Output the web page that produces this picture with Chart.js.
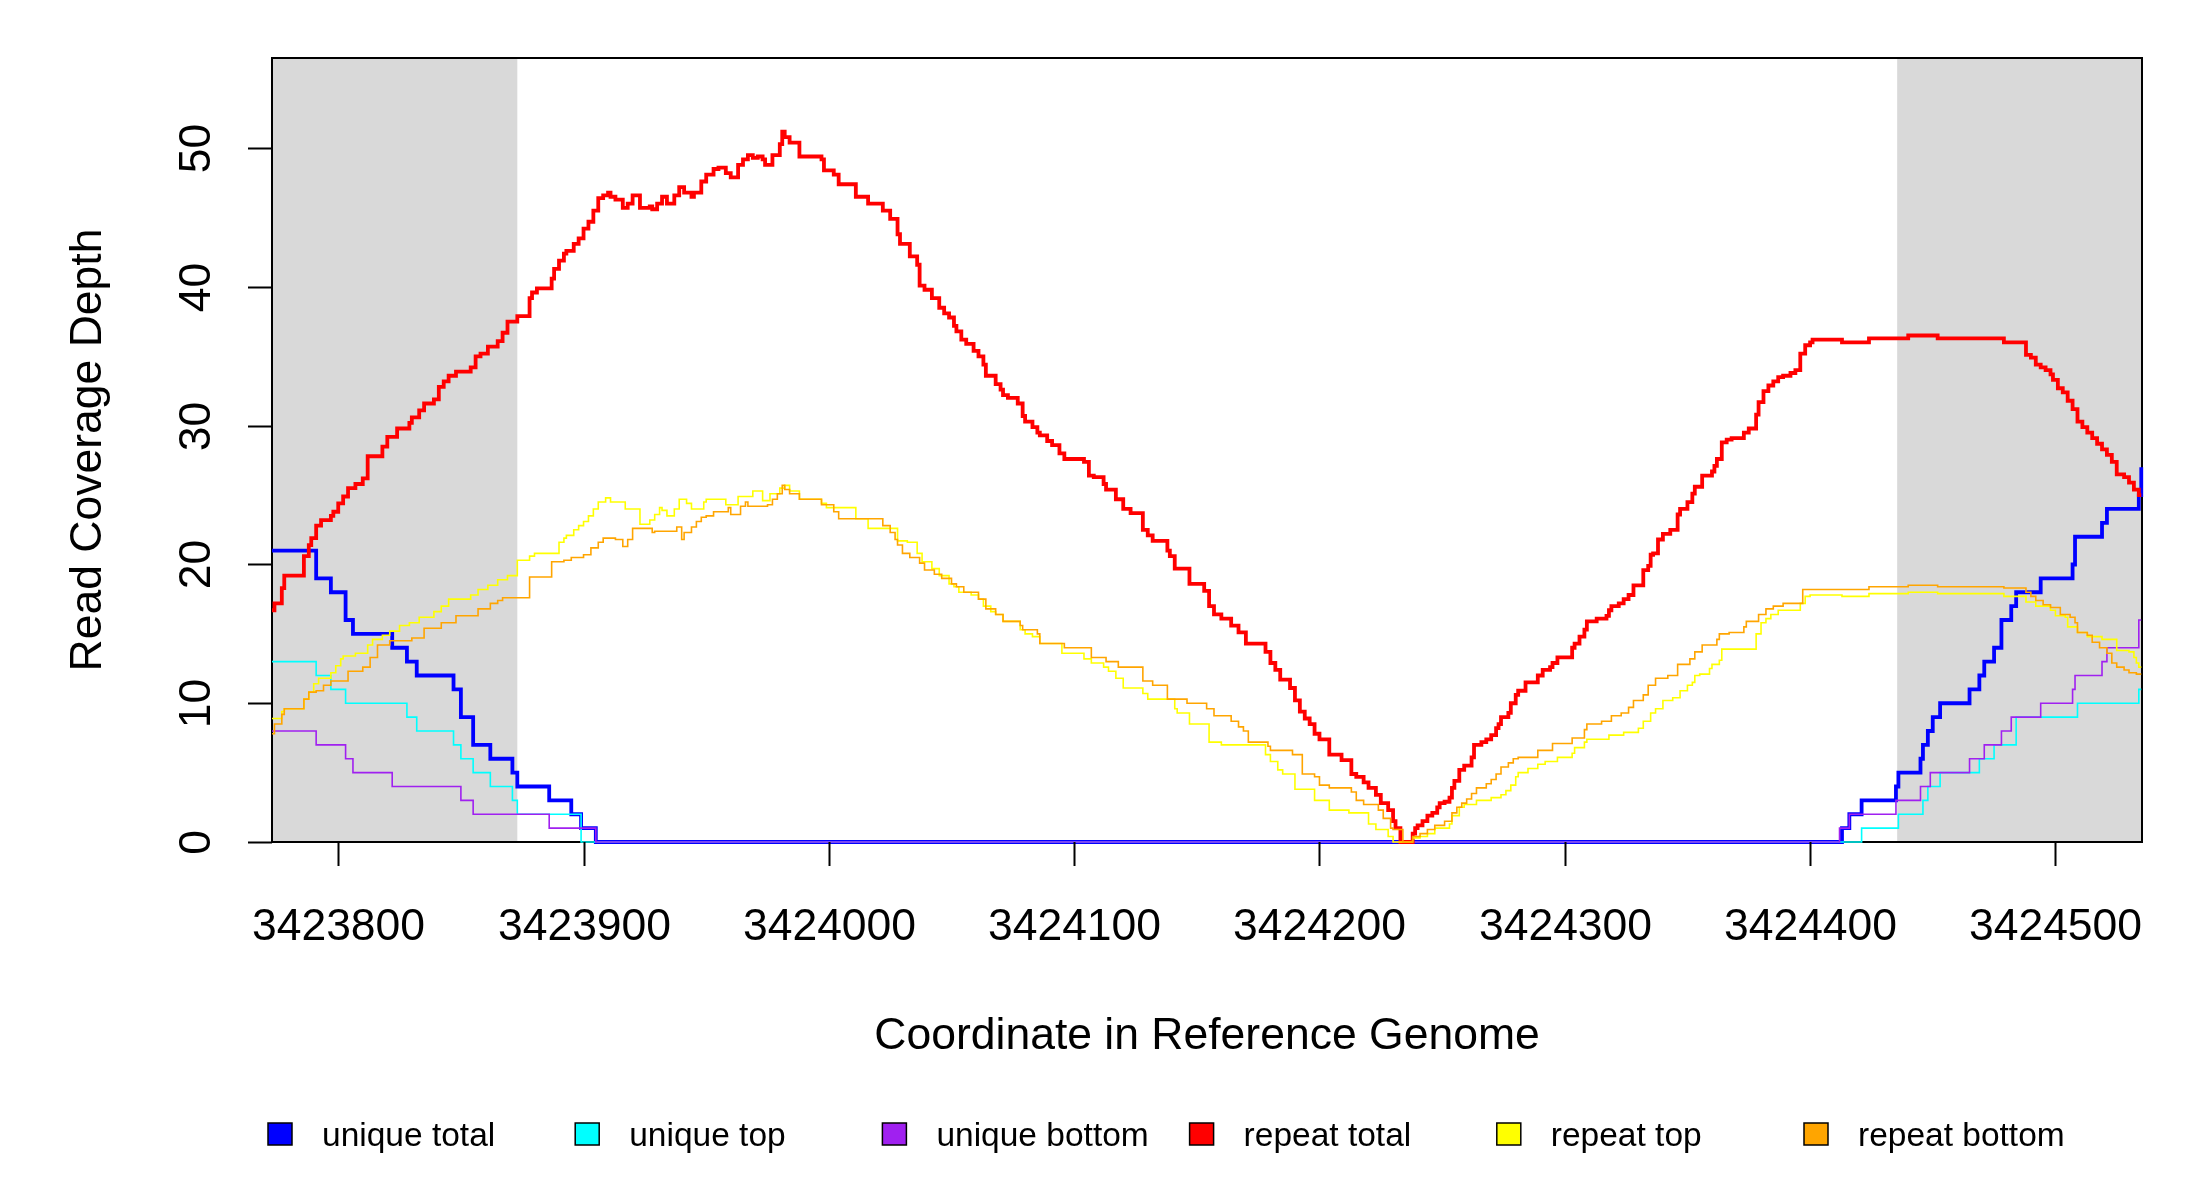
<!DOCTYPE html>
<html>
<head>
<meta charset="utf-8">
<script src="https://cdn.jsdelivr.net/npm/chart.js@4.4.1/dist/chart.umd.min.js"></script>
<style>html,body{margin:0;padding:0;background:#fff}canvas{display:block}</style>
</head>
<body>
<canvas id="c" width="2200" height="1200"></canvas>
<script>
// ---------- data ----------
const xTicks = [3423800, 3423900, 3424000, 3424100, 3424200, 3424300, 3424400, 3424500];
const yTicks = [0, 10, 20, 30, 40, 50];
const xRange = [3423773, 3424535.3];
const yRange = [0, 56.5];
const shadedRegions = [[3423773, 3423873], [3424435.5, 3424535.3]];
const xTitle = "Coordinate in Reference Genome";
const yTitle = "Read Coverage Depth";
const seriesLabels = ["unique total", "unique top", "unique bottom", "repeat total", "repeat top", "repeat bottom"];
const seriesColors = ["#0000FF", "#00FFFF", "#A020F0", "#FF0000", "#FFFF00", "#FFA500"];

const uniqueTotal = [[3423773,21],[3423791,19],[3423797,18],[3423803,16],[3423806,15],[3423822,14],[3423828,13],[3423832,12],[3423847,11],[3423850,9],[3423855,7],[3423862,6],[3423871,5],[3423873,4],[3423886,3],[3423895,2],[3423899,1],[3423905,0],[3424413,1],[3424416,2],[3424421,3],[3424435,4],[3424436,5],[3424445,6],[3424446,7],[3424448,8],[3424450,9],[3424453,10],[3424465,11],[3424469,12],[3424471,13],[3424475,14],[3424478,16],[3424482,17],[3424484,18],[3424494,19],[3424507,20],[3424508,22],[3424519,23],[3424521,24],[3424534,25],[3424535,27]];

const uniqueTop = [[3423773,13],[3423791,12],[3423797,11],[3423803,10],[3423828,9],[3423832,8],[3423847,7],[3423850,6],[3423855,5],[3423862,4],[3423871,3],[3423873,2],[3423899,0],[3424421,1],[3424436,2],[3424446,3],[3424448,4],[3424453,5],[3424469,6],[3424475,7],[3424484,9],[3424509,10],[3424534,11],[3424535,11]];

const uniqueBottom = [[3423773,8],[3423791,7],[3423803,6],[3423806,5],[3423822,4],[3423850,3],[3423855,2],[3423886,1],[3423905,0],[3424412,1],[3424416,2],[3424435,3],[3424445,4],[3424449,5],[3424465,6],[3424471,7],[3424478,8],[3424482,9],[3424494,10],[3424507,11],[3424508,12],[3424519,13],[3424521,14],[3424534,16],[3424535,16]];

const repeatTotal = [[3423773,16.7],[3423774,17.2],[3423777,18.3],[3423778,19.2],[3423786,20.6],[3423788,21.4],[3423789,21.9],[3423791,22.8],[3423793,23.2],[3423797,23.5],[3423798,23.8],[3423800,24.4],[3423802,24.9],[3423804,25.5],[3423807,25.8],[3423810,26.2],[3423812,27.8],[3423818,28.5],[3423820,29.2],[3423824,29.8],[3423829,30.2],[3423830,30.6],[3423833,31.1],[3423835,31.6],[3423839,31.9],[3423841,32.8],[3423843,33.2],[3423845,33.6],[3423848,33.9],[3423854,34.2],[3423856,35],[3423858,35.2],[3423861,35.7],[3423865,36.1],[3423867,36.7],[3423869,37.5],[3423873,37.9],[3423878,39.2],[3423879,39.6],[3423881,39.9],[3423887,40.6],[3423888,41.3],[3423890,41.9],[3423892,42.4],[3423893,42.6],[3423896,43.1],[3423898,43.5],[3423900,44.2],[3423902,44.7],[3423904,45.5],[3423906,46.4],[3423908,46.6],[3423910,46.8],[3423911,46.5],[3423913,46.3],[3423916,45.7],[3423918,46],[3423920,46.6],[3423923,45.7],[3423927,45.8],[3423928,45.6],[3423930,46],[3423932,46.5],[3423934,46],[3423937,46.6],[3423939,47.2],[3423941,46.8],[3423944,46.5],[3423945,46.8],[3423948,47.6],[3423950,48.1],[3423953,48.5],[3423955,48.6],[3423958,48.2],[3423960,47.9],[3423963,48.8],[3423965,49.2],[3423967,49.5],[3423969,49.3],[3423971,49.4],[3423973,49.2],[3423974,48.8],[3423977,49.5],[3423980,50.3],[3423981,51.2],[3423982,50.8],[3423984,50.4],[3423988,49.4],[3423997,49.2],[3423998,48.4],[3424002,48.1],[3424004,47.4],[3424011,46.5],[3424016,46],[3424022,45.5],[3424025,44.9],[3424028,43.8],[3424029,43.1],[3424033,42.2],[3424036,41.6],[3424037,40.1],[3424039,39.8],[3424042,39.2],[3424045,38.5],[3424047,38.1],[3424049,37.8],[3424051,37.2],[3424052,36.8],[3424054,36.2],[3424056,35.9],[3424059,35.4],[3424061,35],[3424063,34.4],[3424064,33.6],[3424068,33],[3424070,32.6],[3424071,32.2],[3424073,32],[3424077,31.6],[3424079,30.7],[3424080,30.3],[3424083,29.9],[3424085,29.5],[3424086,29.3],[3424089,28.9],[3424091,28.6],[3424094,28],[3424096,27.6],[3424104,27.4],[3424106,26.4],[3424108,26.3],[3424112,25.8],[3424113,25.4],[3424117,24.7],[3424120,24],[3424123,23.7],[3424128,22.5],[3424130,22.1],[3424132,21.7],[3424138,21],[3424139,20.6],[3424141,19.7],[3424147,18.6],[3424153,18.1],[3424155,17],[3424157,16.4],[3424160,16.1],[3424164,15.6],[3424167,15.1],[3424170,14.3],[3424178,13.7],[3424180,12.9],[3424182,12.4],[3424184,11.7],[3424188,11.1],[3424190,10.2],[3424192,9.4],[3424194,8.9],[3424196,8.5],[3424198,7.8],[3424200,7.4],[3424204,6.3],[3424209,5.9],[3424213,4.9],[3424215,4.7],[3424218,4.3],[3424220,3.9],[3424223,3.4],[3424225,2.8],[3424228,2.3],[3424230,1.5],[3424231,1],[3424233,0],[3424238,0.6],[3424239,1],[3424240,1.2],[3424242,1.5],[3424244,1.9],[3424246,2.1],[3424248,2.5],[3424249,2.8],[3424251,2.9],[3424253,3.2],[3424254,3.9],[3424255,4.4],[3424257,5.2],[3424259,5.5],[3424262,6.1],[3424263,7],[3424266,7.2],[3424268,7.4],[3424270,7.7],[3424272,8.2],[3424273,8.5],[3424274,9],[3424277,9.3],[3424278,10],[3424280,10.6],[3424281,10.9],[3424284,11.5],[3424289,12],[3424291,12.4],[3424294,12.6],[3424295,12.9],[3424297,13.3],[3424303,14],[3424304,14.3],[3424306,14.8],[3424308,15.3],[3424309,15.9],[3424313,16.1],[3424317,16.3],[3424318,16.7],[3424319,17],[3424322,17.2],[3424324,17.5],[3424326,17.8],[3424328,18.5],[3424332,19.6],[3424334,19.9],[3424335,20.7],[3424336,20.8],[3424338,21.8],[3424340,22.2],[3424343,22.5],[3424346,23.6],[3424347,24],[3424350,24.5],[3424352,25.1],[3424353,25.6],[3424356,26.4],[3424360,26.7],[3424361,27.1],[3424362,27.6],[3424364,28.8],[3424366,29],[3424368,29.1],[3424373,29.5],[3424375,29.8],[3424378,30.8],[3424379,31.7],[3424381,32.5],[3424383,32.9],[3424385,33.2],[3424387,33.5],[3424389,33.6],[3424392,33.8],[3424394,34],[3424396,35.2],[3424398,35.8],[3424400,36],[3424401,36.2],[3424413,36],[3424424,36.3],[3424440,36.5],[3424452,36.3],[3424479,36],[3424488,35.1],[3424490,34.9],[3424492,34.4],[3424494,34.2],[3424496,34],[3424498,33.7],[3424499,33.3],[3424501,32.7],[3424503,32.4],[3424505,31.8],[3424507,31.2],[3424509,30.3],[3424511,29.9],[3424513,29.5],[3424515,29.1],[3424517,28.7],[3424519,28.3],[3424521,27.9],[3424523,27.4],[3424525,26.5],[3424528,26.3],[3424530,25.9],[3424532,25.4],[3424534,25],[3424535,25]];

const repeatTop = [[3423773,8.9],[3423777,9.4],[3423778,9.6],[3423786,10.3],[3423788,10.8],[3423790,11.4],[3423792,11.8],[3423797,12.2],[3423799,12.7],[3423801,13.2],[3423802,13.4],[3423807,13.6],[3423812,14.2],[3423814,14.6],[3423818,14.9],[3423821,15.2],[3423825,15.6],[3423829,15.8],[3423833,16.2],[3423839,16.6],[3423842,17],[3423845,17.5],[3423854,17.8],[3423857,18.2],[3423861,18.5],[3423865,18.9],[3423869,19.2],[3423873,20.3],[3423878,20.6],[3423880,20.8],[3423890,21.6],[3423892,21.9],[3423893,22.1],[3423896,22.5],[3423898,22.8],[3423900,23.1],[3423902,23.5],[3423904,24],[3423906,24.5],[3423909,24.8],[3423911,24.5],[3423917,24],[3423923,22.9],[3423927,23.2],[3423929,23.6],[3423931,24.1],[3423932,23.9],[3423934,23.5],[3423937,24],[3423939,24.7],[3423942,24.4],[3423944,24],[3423949,24.5],[3423950,24.7],[3423958,24.3],[3423963,24.9],[3423969,25.3],[3423973,24.6],[3423976,25.1],[3423980,25.5],[3423982,25.7],[3423984,25.3],[3423988,24.7],[3423997,24.4],[3423999,24.1],[3424011,23.3],[3424016,22.6],[3424028,21.7],[3424032,21.6],[3424036,20.8],[3424038,20.2],[3424042,19.7],[3424045,19.2],[3424049,18.6],[3424051,18.4],[3424053,18],[3424058,17.8],[3424061,17.5],[3424063,17],[3424066,16.6],[3424068,16.4],[3424071,15.9],[3424078,15.3],[3424080,15],[3424083,14.8],[3424086,14.3],[3424095,13.6],[3424104,13.2],[3424107,12.9],[3424112,12.6],[3424114,12.3],[3424117,11.8],[3424120,11.1],[3424128,10.7],[3424130,10.3],[3424141,9.6],[3424142,9.3],[3424147,8.5],[3424155,7.2],[3424160,7],[3424178,6.3],[3424180,5.8],[3424183,5.2],[3424185,4.9],[3424190,3.8],[3424198,3],[3424204,2.3],[3424212,2.1],[3424220,1.3],[3424223,0.9],[3424228,0.4],[3424230,0],[3424238,0.3],[3424241,0.4],[3424244,0.6],[3424247,1],[3424253,1.3],[3424254,1.9],[3424257,2.5],[3424259,2.7],[3424264,3],[3424270,3.2],[3424274,3.4],[3424276,3.7],[3424278,4.1],[3424280,4.7],[3424281,5],[3424285,5.3],[3424289,5.6],[3424292,5.8],[3424297,6.1],[3424303,6.4],[3424304,6.8],[3424308,7.2],[3424309,7.4],[3424318,7.7],[3424324,7.9],[3424330,8.2],[3424332,8.7],[3424335,9.3],[3424337,9.6],[3424340,10.2],[3424344,10.4],[3424347,10.9],[3424350,11.3],[3424352,11.5],[3424353,12],[3424355,12.1],[3424359,12.5],[3424360,12.8],[3424363,13.1],[3424364,13.9],[3424378,15],[3424380,15.8],[3424382,16.1],[3424384,16.4],[3424387,16.7],[3424396,17.2],[3424398,17.7],[3424400,17.8],[3424413,17.7],[3424424,17.9],[3424440,18],[3424452,17.9],[3424479,17.7],[3424488,17.3],[3424492,17],[3424498,16.7],[3424500,16.3],[3424504,16.2],[3424505,15.5],[3424509,15.1],[3424513,14.8],[3424519,14.6],[3424525,13.8],[3424530,13.7],[3424532,13.3],[3424533,12.9],[3424534,12.6],[3424535,12.6]];

const repeatBottom = [[3423773,7.8],[3423774,8.5],[3423777,9.2],[3423778,9.6],[3423786,10.3],[3423788,10.8],[3423791,10.9],[3423794,11.3],[3423797,11.6],[3423804,12.3],[3423810,12.6],[3423813,13.3],[3423816,14.2],[3423821,14.5],[3423830,14.7],[3423835,15.4],[3423842,15.8],[3423848,16.3],[3423857,16.8],[3423862,17.2],[3423865,17.4],[3423867,17.6],[3423878,19.1],[3423887,20.2],[3423892,20.3],[3423895,20.5],[3423900,20.7],[3423903,21.2],[3423906,21.6],[3423908,21.9],[3423913,21.8],[3423916,21.3],[3423918,21.8],[3423920,22.6],[3423928,22.3],[3423929,22.4],[3423938,22.7],[3423940,21.8],[3423941,22.3],[3423944,22.7],[3423946,23.1],[3423948,23.4],[3423950,23.5],[3423953,23.8],[3423959,24.1],[3423960,23.6],[3423964,24.2],[3423966,24.5],[3423967,24.2],[3423975,24.3],[3423977,24.7],[3423979,25.1],[3423981,25.7],[3423982,25.4],[3423984,25.1],[3423988,24.7],[3423997,24.3],[3424002,23.8],[3424004,23.3],[3424022,22.8],[3424025,22.3],[3424027,21.8],[3424028,21.4],[3424030,20.8],[3424033,20.5],[3424037,20.1],[3424039,19.6],[3424043,19.3],[3424046,19],[3424050,18.6],[3424052,18.4],[3424055,18],[3424061,17.5],[3424064,16.8],[3424068,16.4],[3424071,15.9],[3424078,15.6],[3424079,15.3],[3424085,15],[3424086,14.3],[3424096,14],[3424107,13.3],[3424113,13],[3424118,12.6],[3424128,11.6],[3424132,11.3],[3424138,10.3],[3424146,10],[3424154,9.6],[3424157,9.1],[3424164,8.7],[3424167,8.3],[3424169,8],[3424171,7.2],[3424179,6.9],[3424180,6.6],[3424189,6.3],[3424193,4.9],[3424198,4.7],[3424200,4.1],[3424204,3.9],[3424213,3.6],[3424215,3],[3424218,2.7],[3424224,2.3],[3424226,1.7],[3424229,1],[3424230,0.9],[3424234,0],[3424238,0.4],[3424241,0.6],[3424244,0.9],[3424247,1.2],[3424251,1.5],[3424254,2.1],[3424256,2.5],[3424258,2.8],[3424260,3.1],[3424262,3.5],[3424264,3.9],[3424268,4.2],[3424270,4.5],[3424272,4.9],[3424274,5.4],[3424277,5.7],[3424279,6],[3424281,6.1],[3424289,6.6],[3424295,7.1],[3424303,7.5],[3424308,8.1],[3424309,8.5],[3424315,8.7],[3424319,9.1],[3424323,9.3],[3424326,9.7],[3424328,10.2],[3424332,10.6],[3424334,11.3],[3424337,11.8],[3424342,12],[3424346,12.8],[3424351,13.2],[3424353,13.7],[3424356,14.2],[3424362,14.6],[3424363,15],[3424367,15.1],[3424373,15.5],[3424374,15.9],[3424379,16.4],[3424382,16.8],[3424385,17],[3424389,17.2],[3424397,18.2],[3424424,18.4],[3424440,18.5],[3424452,18.4],[3424479,18.3],[3424488,18],[3424490,17.7],[3424492,17.4],[3424495,17.1],[3424498,16.9],[3424502,16.4],[3424506,16.2],[3424508,15.8],[3424509,15.1],[3424513,14.9],[3424515,14.4],[3424518,14],[3424521,13.6],[3424523,12.9],[3424525,12.6],[3424528,12.4],[3424530,12.2],[3424533,12.1],[3424535,12.1]];

const seriesData = [uniqueTotal, uniqueTop, uniqueBottom, repeatTotal, repeatTop, repeatBottom];
const seriesThick = [true, false, false, true, false, false];

// ---------- style / layout ----------
const FONT = '"Liberation Sans", Arial, Helvetica, sans-serif';
const PLOT = { left: 272, right: 2142, top: 58, bottom: 842 };

const datasets = seriesLabels.map((label, i) => ({
  label,
  data: seriesData[i].map(([x, y]) => ({ x, y })),
  borderColor: seriesColors[i],
  backgroundColor: seriesColors[i],
  borderWidth: seriesThick[i] ? 3.8 : 1.6,
  stepped: 'before',
  pointRadius: 0,
  pointHoverRadius: 0,
  fill: false,
  tension: 0,
  clip: 6,
  order: seriesLabels.length - i
}));

const decor = {
  id: 'decor',
  beforeDraw(chart) {
    const ctx = chart.ctx;
    ctx.save();
    ctx.fillStyle = '#ffffff';
    ctx.fillRect(0, 0, chart.width, chart.height);
    ctx.restore();
  },
  beforeDatasetsDraw(chart) {
    const { ctx, chartArea: a, scales: { x } } = chart;
    ctx.save();
    ctx.fillStyle = '#D9D9D9';
    shadedRegions.forEach(([s, e]) => {
      const x0 = Math.max(a.left, x.getPixelForValue(s));
      const x1 = Math.min(a.right, x.getPixelForValue(e));
      ctx.fillRect(x0, a.top, x1 - x0, a.bottom - a.top);
    });
    ctx.strokeStyle = '#000';
    ctx.lineWidth = 2;
    ctx.strokeRect(a.left, a.top, a.right - a.left, a.bottom - a.top);
    ctx.restore();
  },
  afterDraw(chart) {
    const { ctx, chartArea: a, scales: { x, y } } = chart;
    ctx.save();
    ctx.strokeStyle = '#000';
    ctx.fillStyle = '#000';
    ctx.lineWidth = 2;
    // x ticks
    ctx.font = '44.5px ' + FONT;
    ctx.textAlign = 'center';
    ctx.textBaseline = 'alphabetic';
    xTicks.forEach(v => {
      const px = Math.round(x.getPixelForValue(v)) + 0.5;
      ctx.beginPath(); ctx.moveTo(px, a.bottom); ctx.lineTo(px, a.bottom + 24); ctx.stroke();
      ctx.fillText(String(v), px, 940);
    });
    // y ticks
    yTicks.forEach(v => {
      const py = Math.round(y.getPixelForValue(v)) + 0.5;
      ctx.beginPath(); ctx.moveTo(a.left, py); ctx.lineTo(a.left - 24, py); ctx.stroke();
      ctx.save();
      ctx.translate(210, py);
      ctx.rotate(-Math.PI / 2);
      ctx.fillText(String(v), 0, 0);
      ctx.restore();
    });
    // titles
    ctx.fillText(xTitle, (a.left + a.right) / 2, 1049);
    ctx.save();
    ctx.translate(101, (a.top + a.bottom) / 2);
    ctx.rotate(-Math.PI / 2);
    ctx.fillText(yTitle, 0, 0);
    ctx.restore();
    // legend
    ctx.font = '33.5px ' + FONT;
    ctx.textAlign = 'left';
    const lx0 = 268, lstep = 307.2, lBase = 1146;
    seriesLabels.forEach((lab, i) => {
      const lx = lx0 + i * lstep;
      ctx.fillStyle = seriesColors[i];
      ctx.fillRect(lx, 1123, 24, 22);
      ctx.lineWidth = 1.5;
      ctx.strokeStyle = '#000';
      ctx.strokeRect(lx, 1123, 24, 22);
      ctx.fillStyle = '#000';
      ctx.fillText(lab, lx + 54, lBase);
    });
    ctx.restore();
  }
};

new Chart(document.getElementById('c'), {
  type: 'line',
  data: { datasets },
  options: {
    responsive: false,
    maintainAspectRatio: false,
    devicePixelRatio: 1,
    animation: false,
    events: [],
    layout: { padding: { left: PLOT.left, right: 2200 - PLOT.right, top: PLOT.top, bottom: 1200 - PLOT.bottom } },
    plugins: { legend: { display: false }, tooltip: { enabled: false }, title: { display: false } },
    scales: {
      x: { type: 'linear', display: false, min: xRange[0], max: xRange[1],
           afterBuildTicks: s => { s.ticks = xTicks.map(v => ({ value: v })); } },
      y: { type: 'linear', display: false, min: yRange[0], max: yRange[1],
           afterBuildTicks: s => { s.ticks = yTicks.map(v => ({ value: v })); } }
    }
  },
  plugins: [decor]
});
</script>
</body>
</html>
